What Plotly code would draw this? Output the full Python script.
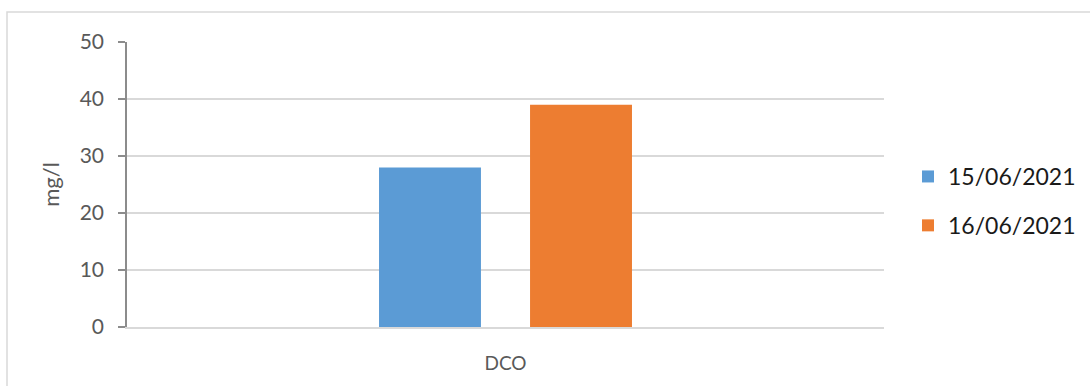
import plotly.graph_objects as go

categories = ["DCO"]
series_names = ["15/06/2021", "16/06/2021"]
values_1 = [28]
values_2 = [39]
colors = ["#5B9BD5", "#ED7D31"]

W, H = 1090, 386
L, R, T, B = 127, 206, 42, 59
pw = W - L - R
ph = H - T - B

fig = go.Figure()
for name, vals, col in zip(series_names, [values_1, values_2], colors):
    fig.add_trace(go.Bar(x=categories, y=vals, name=name, marker=dict(color=col, line=dict(width=0)),
                         legendgroup=name))

font_family = "Lato, 'Open Sans', sans-serif"
fig.update_layout(
    width=W, height=H,
    margin=dict(l=L, r=R, t=T, b=B, autoexpand=False),
    paper_bgcolor="white", plot_bgcolor="white",
    barmode="group", bargap=0.601, bargroupgap=0.325,
    font=dict(family=font_family, color="#595959"),
    legend=dict(x=(908 - L) / pw, y=(H - B - 201) / ph, xanchor="left", yanchor="middle",
                font=dict(size=23, color="#1a1a1a", family=font_family),
                tracegroupgap=16, bgcolor="rgba(0,0,0,0)"),
    showlegend=True,
)
fig.update_yaxes(
    range=[0, 50], dtick=10, showgrid=True, gridcolor="#d9d9d9", gridwidth=1.5,
    showline=True, linecolor="#8c8c8c", linewidth=1.5,
    ticks="outside", ticklen=7, tickcolor="#8c8c8c", tickwidth=1.5,
    tickfont=dict(size=21, color="#595959"), ticklabelstandoff=10,
    zeroline=False,
    title=dict(text="mg/l", font=dict(size=22, color="#595959"), standoff=14),
)
fig.update_xaxes(
    showline=True, linecolor="#d9d9d9", linewidth=1.5, ticks="",
    tickfont=dict(size=19, color="#595959"), ticklabelstandoff=18,
)
fig.add_shape(type="rect", xref="paper", yref="paper",
              x0=(7 - L) / pw, x1=(W + 20 - L) / pw,
              y0=(H - B - (H + 20)) / ph, y1=(H - B - 12) / ph,
              line=dict(color="#d9d9d9", width=1.5), fillcolor="rgba(0,0,0,0)", layer="below")

fig.write_html("out.html")
